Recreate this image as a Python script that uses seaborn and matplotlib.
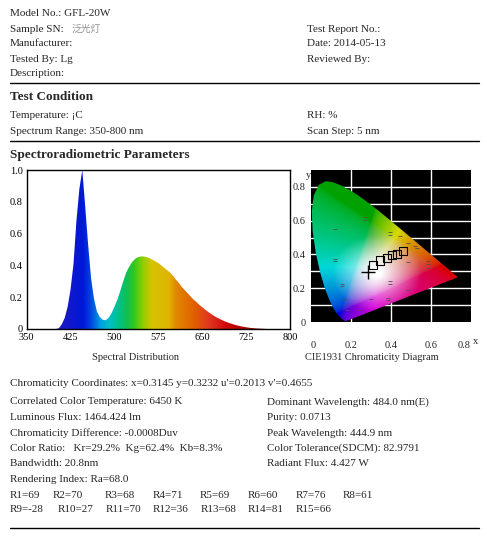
import numpy as np
import matplotlib
matplotlib.use("Agg")
import matplotlib.pyplot as plt
from matplotlib.colors import LinearSegmentedColormap
from matplotlib.lines import Line2D
from matplotlib.patches import Polygon
import seaborn as sns

# ====== data ======
wavelength = list(range(350, 805, 5))
intensity = [
    0, 0, 0, 0, 0, 0, 0, 0, 0, 0,
    0, 0.005, 0.03, 0.07, 0.14, 0.25, 0.41, 0.68, 0.88, 1.0,
    0.77, 0.53, 0.32, 0.19, 0.11, 0.075, 0.058, 0.055, 0.07, 0.10,
    0.14, 0.185, 0.24, 0.30, 0.355, 0.39, 0.42, 0.44, 0.452, 0.456,
    0.456, 0.452, 0.445, 0.436, 0.425, 0.415, 0.40, 0.385, 0.37, 0.355,
    0.335, 0.31, 0.29, 0.265, 0.245, 0.225, 0.205, 0.185, 0.17, 0.152,
    0.137, 0.122, 0.108, 0.095, 0.083, 0.072, 0.063, 0.054, 0.046, 0.039,
    0.033, 0.027, 0.022, 0.018, 0.014, 0.011, 0.008, 0.006, 0.004, 0.003,
    0.002, 0.001, 0, 0, 0, 0, 0, 0, 0, 0,
    0,
]
spec_xticks = [350, 425, 500, 575, 650, 725, 800]
spec_yticks = [0, 0.2, 0.4, 0.6, 0.8, 1.0]
spec_ylabels = ["0", "0.2", "0.4", "0.6", "0.8", "1.0"]

# colour of each wavelength in the fill
wl_stops = [350, 400, 445, 455, 465, 475, 490, 505, 520, 532, 548, 562, 592, 604, 635, 660, 690, 720, 760, 800]
wl_colors = ["#2010a0", "#2018c0", "#0018d8", "#0038e0", "#0068e0", "#00a0e0", "#00c0c8", "#00c090",
             "#10c050", "#30c820", "#90d000", "#d4c400", "#e0b400", "#e08800", "#e06000", "#e03820",
             "#d00808", "#b00000", "#800000", "#600000"]

# CIE 1931 spectral locus
locus_x = [0.1741, 0.1733, 0.1714, 0.1644, 0.1566, 0.1440, 0.1241, 0.1096, 0.0913, 0.0687, 0.0454,
           0.0235, 0.0082, 0.0039, 0.0139, 0.0389, 0.0743, 0.1142, 0.1547, 0.1929, 0.2296, 0.2658,
           0.3016, 0.3373, 0.3731, 0.4087, 0.4441, 0.4788, 0.5125, 0.5448, 0.5752, 0.6029, 0.6270,
           0.6658, 0.6915, 0.7079, 0.7190, 0.7260, 0.7347]
locus_y = [0.0050, 0.0048, 0.0051, 0.0109, 0.0177, 0.0297, 0.0578, 0.0868, 0.1327, 0.2007, 0.2950,
           0.4127, 0.5384, 0.6548, 0.7502, 0.8120, 0.8338, 0.8262, 0.8059, 0.7816, 0.7543, 0.7243,
           0.6923, 0.6589, 0.6245, 0.5896, 0.5547, 0.5202, 0.4866, 0.4544, 0.4242, 0.3965, 0.3725,
           0.3340, 0.3083, 0.2920, 0.2809, 0.2740, 0.2653]

bin_x = [0.312, 0.345, 0.378, 0.407, 0.428, 0.462]
bin_y = [0.340, 0.364, 0.380, 0.396, 0.404, 0.419]
point_x = [0.287]
point_y = [0.297]

dash_x = [0.27, 0.27, 0.12, 0.395, 0.395, 0.445, 0.487, 0.52, 0.53, 0.12, 0.12, 0.487, 0.585, 0.585,
          0.585, 0.395, 0.395, 0.153, 0.153, 0.487, 0.17, 0.30, 0.385, 0.385, 0.178, 0.245]
dash_y = [0.62, 0.605, 0.55, 0.53, 0.515, 0.51, 0.47, 0.45, 0.44, 0.375, 0.36, 0.356, 0.36, 0.345,
          0.32, 0.24, 0.225, 0.227, 0.212, 0.19, 0.137, 0.137, 0.143, 0.128, 0.07, 0.07]

header_left = ["Model No.: GFL-20W", "Sample SN: ", "Manufacturer:", "Tested By: Lg", "Description:"]
header_right = ["", "Test Report No.:", "Date: 2014-05-13", "Reviewed By:", ""]
sample_sn = "泛光灯"
cond_left = ["Temperature: ¡C", "Spectrum Range: 350-800 nm"]
cond_right = ["RH: %", "Scan Step: 5 nm"]
result_left = ["Correlated Color Temperature: 6450 K", "Luminous Flux: 1464.424 lm",
               "Chromaticity Difference: -0.0008Duv", "Color Ratio:   Kr=29.2%  Kg=62.4%  Kb=8.3%",
               "Bandwidth: 20.8nm"]
result_right = ["Dominant Wavelength: 484.0 nm(E)", "Purity: 0.0713", "Peak Wavelength: 444.9 nm",
                "Color Tolerance(SDCM): 82.9791", "Radiant Flux: 4.427 W"]
chroma_line = "Chromaticity Coordinates: x=0.3145 y=0.3232 u'=0.2013 v'=0.4655"
ra_line = "Rendering Index: Ra=68.0"
ri_values = [69, 70, 68, 71, 69, 60, 76, 61, -28, 27, 70, 36, 68, 81, 66]

# ====== figure ======
sns.set_style("white")
plt.rcParams['font.family'] = ['Liberation Serif', 'Noto Sans CJK SC']
W, H = 487, 549
fig = plt.figure(figsize=(W / 100, H / 100), dpi=100)
FS = 8


def put(x, y, s, **kw):
    kw.setdefault('fontsize', FS)
    return fig.text(x / W, 1 - y / H, s, va='center', **kw)


def hline(y):
    fig.add_artist(Line2D([10 / W, 479 / W], [1 - y / H, 1 - y / H], color='black', lw=1.0))


for i, (l, r) in enumerate(zip(header_left, header_right)):
    y = 14 + 15 * i
    put(10, y, l)
    if r:
        put(307, y, r)
put(72, 29, sample_sn, color='#909090', family=['Noto Sans CJK SC'], fontsize=7)
hline(83)
put(10, 97, "Test Condition", fontsize=9.5, fontweight='bold')
for i, (l, r) in enumerate(zip(cond_left, cond_right)):
    put(10, 116 + 15 * i, l)
    put(307, 116 + 15 * i, r)
hline(141)
put(10, 155, "Spectroradiometric Parameters", fontsize=9.5, fontweight='bold')

# ---- spectrum ----
ax1 = fig.add_axes([26.7 / W, 1 - 329 / H, (290 - 26.7) / W, (329 - 170) / H])
wl_norm = [(w - 350) / 450 for w in wl_stops]
spec_cmap = LinearSegmentedColormap.from_list("spec", list(zip(wl_norm, wl_colors)))
grad = ax1.imshow(np.linspace(0, 1, 900)[None, :], extent=(350, 800, 0, 1), aspect='auto',
                  cmap=spec_cmap, origin='lower', zorder=1)
clip = Polygon(np.column_stack([wavelength + [800, 350], intensity + [0, 0]]),
               closed=True, transform=ax1.transData, facecolor='none', edgecolor='none')
ax1.add_patch(clip)
grad.set_clip_path(clip)
ax1.set_xlim(350, 800)
ax1.set_ylim(0, 1)
ax1.set_xticks(spec_xticks)
ax1.set_xticklabels([str(v) for v in spec_xticks])
ax1.set_yticks(spec_yticks)
ax1.set_yticklabels(spec_ylabels)
ax1.tick_params(direction='in', length=3, width=0.8, labelsize=7.5, pad=3, colors='black')
for s in ax1.spines.values():
    s.set_color('black')
    s.set_linewidth(1.0)
    s.set_visible(True)
put(135, 357, "Spectral Distribution", ha='center', fontsize=7.5)

# ---- CIE 1931 ----
ax2 = fig.add_axes([311 / W, 1 - 322 / H, 160 / W, 152 / H])
ax2.set_facecolor('black')
gx = np.linspace(0.0005, 0.8, 320)
gy = np.linspace(0.002, 0.9, 360)
GX, GY = np.meshgrid(gx, gy)
XYZ = np.stack([GX / GY, np.ones_like(GX), (1 - GX - GY) / GY])
M = np.array([[3.2406, -1.5372, -0.4986], [-0.9689, 1.8758, 0.0415], [0.0557, -0.2040, 1.0570]])
lin = np.clip(np.tensordot(M, XYZ, axes=1), 0, None)
lin = lin / (lin.max(axis=0, keepdims=True) + 1e-9)
base = np.where(lin <= 0.0031308, 12.92 * lin, 1.055 * lin ** (1 / 2.4) - 0.055) * 0.85
# tone the greens down a little
g_dom = np.clip(base[1] - np.maximum(base[0], base[2]), 0, 1)
base = base * (1 - 0.3 * g_dom)
# white blob around the white point
dist = np.hypot(GX - 0.33, GY - 0.29)
sat = np.clip((dist - 0.025) / 0.2, 0, 1) ** 0.75
srgb = (1 - sat) + base * sat
img = np.clip(np.moveaxis(srgb, 0, -1), 0, 1)
cie = ax2.imshow(img, extent=(0.0005, 0.8, 0.002, 0.9), origin='lower', aspect='auto', zorder=1)
horse = Polygon(np.column_stack([locus_x, locus_y]), closed=True, transform=ax2.transData,
                facecolor='none', edgecolor='none')
ax2.add_patch(horse)
cie.set_clip_path(horse)
for v in [0.2, 0.4, 0.6]:
    ax2.axvline(v, color='white', lw=1.0, zorder=0.5)
for v in np.arange(0.1, 0.85, 0.1):
    ax2.axhline(v, color='white', lw=1.0, zorder=0.5)
ax2.scatter(dash_x, dash_y, marker='_', s=9, color='#505050', lw=0.6, zorder=2)
sns.scatterplot(x=bin_x, y=bin_y, ax=ax2, marker='s', s=34, facecolors='none',
                edgecolor='black', linewidth=0.8, zorder=3)
sns.scatterplot(x=point_x, y=point_y, ax=ax2, marker='+', s=110, color='black', linewidth=1.0, zorder=4)
ax2.set_xlim(0, 0.8)
ax2.set_ylim(0, 0.9)
ax2.set_xticks([0, 0.2, 0.4, 0.6, 0.8])
ax2.set_xticklabels(["0", "0.2", "0.4", "0.6", "0.8"])
ax2.set_yticks([0, 0.2, 0.4, 0.6, 0.8])
ax2.set_yticklabels(["0", "0.2", "0.4", "0.6", "0.8"])
ax2.tick_params(axis='x', length=0, labelsize=7.5, pad=14)
ax2.tick_params(axis='y', length=0, labelsize=7.5, pad=4)
xl = ax2.get_xticklabels()
xl[0].set_horizontalalignment('left')
xl[-1].set_horizontalalignment('right')
for s in ax2.spines.values():
    s.set_visible(False)
put(476, 342, "x", fontsize=7.5, ha='center')
put(308, 176, "y", fontsize=7.5, ha='center')
put(372, 357, "CIE1931 Chromaticity Diagram", ha='center', fontsize=7.5)

# ---- results ----
put(10, 384, chroma_line)
for i, (l, r) in enumerate(zip(result_left, result_right)):
    y = 402 + 15.5 * i
    put(10, y, l)
    put(267, y, r)
put(10, 480, ra_line)
row1_x = [10, 53, 105, 153, 200, 248, 296, 343]
row2_x = [10, 58, 106, 153, 201, 248, 296]
for i, v in enumerate(ri_values):
    if i < 8:
        put(row1_x[i], 495, "R%d=%d" % (i + 1, v))
    else:
        put(row2_x[i - 8], 510, "R%d=%d" % (i + 1, v))
hline(528)

fig.savefig("out.png", dpi=100, facecolor='white')
